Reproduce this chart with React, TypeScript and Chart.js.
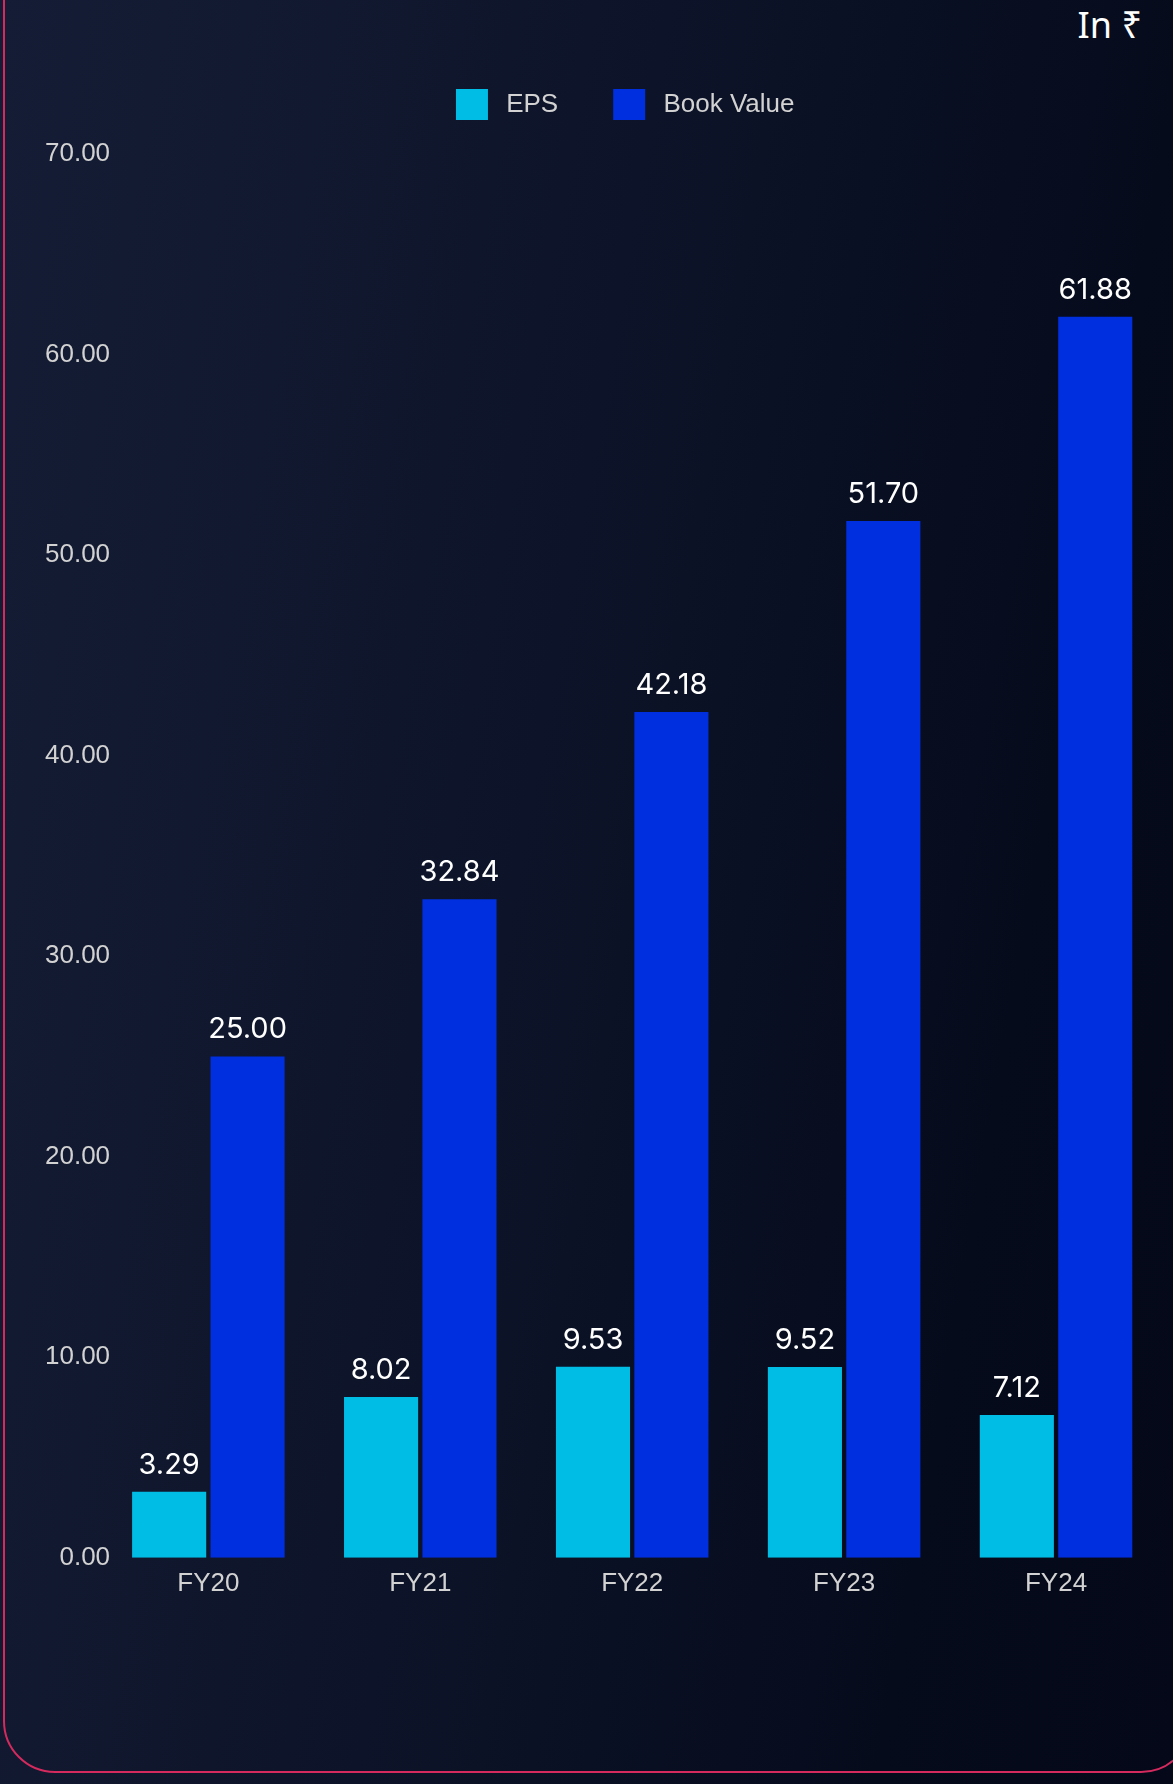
import React, { useEffect, useRef } from "react";
import { Chart, registerables } from "chart.js";

Chart.register(...registerables);

const categories = ["FY20", "FY21", "FY22", "FY23", "FY24"];
const epsValues = [3.29, 8.02, 9.53, 9.52, 7.12];
const bookValues = [25.0, 32.84, 42.18, 51.7, 61.88];
const seriesNames = ["EPS", "Book Value"];
const unitLabel = "In ₹";

const EPS_COLOR = "#00bde6";
const BV_COLOR = "#002fe0";
const TICK_FONT = "'Liberation Sans', Arial, sans-serif";

const valueLabels = {
  id: "valueLabels",
  afterDatasetsDraw(chart: any) {
    const ctx = chart.ctx;
    ctx.save();
    ctx.font = "400 29px Inter, 'Open Sans', sans-serif";
    ctx.fillStyle = "#ffffff";
    ctx.textAlign = "center";
    ctx.textBaseline = "alphabetic";
    chart.data.datasets.forEach((ds: any, di: number) => {
      const meta = chart.getDatasetMeta(di);
      meta.data.forEach((el: any, i: number) => {
        const v = ds.data[i] as number;
        ctx.fillText(v.toFixed(2), el.x, el.y - 18);
      });
    });
    ctx.restore();
  },
};

const legendMargin = {
  id: "legendMargin",
  beforeInit(chart: any) {
    const legend = chart.legend;
    const origFit = legend.fit;
    legend.fit = function () {
      origFit.bind(legend)();
      this.height += 24;
    };
    const origDraw = legend.draw;
    legend.draw = function () {
      const ctx = chart.ctx;
      ctx.save();
      ctx.translate(-7, 0);
      origDraw.bind(legend)();
      ctx.restore();
    };
  },
};

export default function App() {
  const ref = useRef<HTMLCanvasElement | null>(null);

  useEffect(() => {
    if (!ref.current) return;
    const chart = new Chart(ref.current, {
      type: "bar",
      data: {
        labels: categories,
        datasets: [
          {
            label: seriesNames[0],
            data: epsValues,
            backgroundColor: EPS_COLOR,
            borderWidth: 0,
            categoryPercentage: 0.74,
            barPercentage: 0.945,
          },
          {
            label: seriesNames[1],
            data: bookValues,
            backgroundColor: BV_COLOR,
            borderWidth: 0,
            categoryPercentage: 0.74,
            barPercentage: 0.945,
          },
        ],
      },
      options: {
        responsive: false,
        animation: false,
        devicePixelRatio: 1,
        layout: { padding: { top: 34, left: 0, right: 11, bottom: 2 } },
        plugins: {
          tooltip: { enabled: false },
          legend: {
            position: "top",
            fullSize: false,
            labels: {
              boxWidth: 32,
              boxHeight: 31,
              padding: 55,
              color: "#d2d2d2",
              font: { family: TICK_FONT, size: 26 },
              generateLabels(chart: any) {
                const items = Chart.defaults.plugins.legend.labels.generateLabels(chart);
                return items.map((it: any) => ({ ...it, text: "\u2009" + it.text }));
              },
            },
          },
        },
        scales: {
          x: {
            grid: { display: false, drawTicks: false },
            border: { display: false },
            ticks: {
              color: "#d2d2d2",
              padding: 10,
              font: { family: TICK_FONT, size: 26 },
            },
          },
          y: {
            min: 0,
            max: 70,
            grid: { display: false, drawTicks: false },
            border: { display: false },
            afterFit(scale: any) {
              scale.width = 102.4;
            },
            ticks: {
              stepSize: 10,
              color: "#d2d2d2",
              mirror: true,
              crossAlign: "far",
              padding: -57.4,
              font: { family: TICK_FONT, size: 26 },
              callback: (v: any) => Number(v).toFixed(2),
            },
          },
        },
      },
      plugins: [valueLabels, legendMargin],
    });
    return () => chart.destroy();
  }, []);

  return (
    <div
      style={{
        position: "absolute",
        left: 0,
        top: 0,
        width: 1173,
        height: 1784,
        overflow: "hidden",
        background:
          "linear-gradient(100deg, #151d36 0%, #0d1429 45%, #060b1c 80%, #040818 100%)",
      }}
    >
      <div
        style={{
          position: "absolute",
          left: 3,
          top: -80,
          width: 1190,
          height: 1776 + 80 - 3,
          border: "2px solid #d42a5e",
          borderRadius: 52,
          boxSizing: "border-box",
        }}
      />
      <div
        style={{
          position: "absolute",
          right: 31,
          top: 0,
          color: "#ffffff",
          fontFamily: "'Noto Sans', 'DejaVu Sans', sans-serif",
          fontSize: 36,
          lineHeight: "50px",
        }}
      >
        {unitLabel}
      </div>
      <canvas
        ref={ref}
        width={1173}
        height={1611}
        style={{ position: "absolute", left: 0, top: 0, width: 1173, height: 1611 }}
      />
    </div>
  );
}
